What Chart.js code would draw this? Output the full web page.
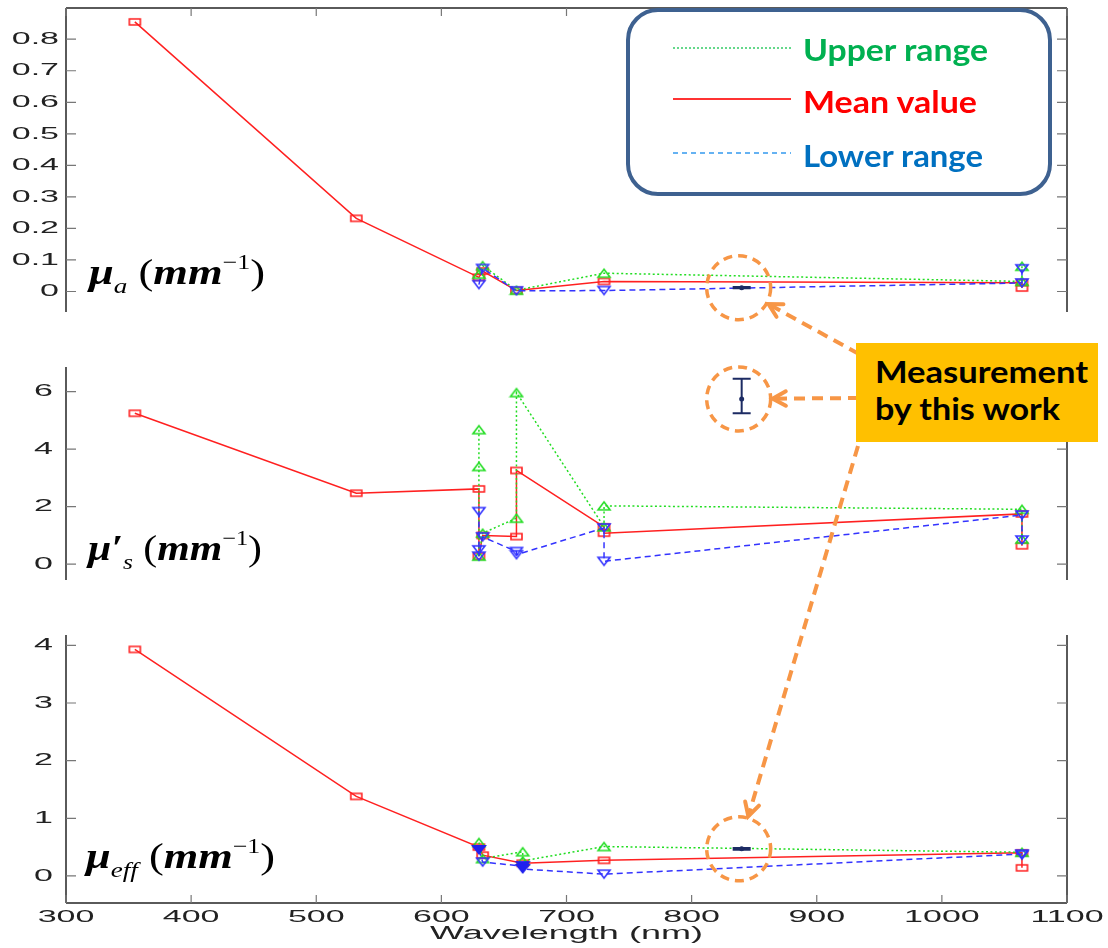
<!DOCTYPE html>
<html>
<head>
<meta charset="utf-8">
<script src="https://cdn.jsdelivr.net/npm/chart.js@4.4.1/dist/chart.umd.min.js"></script>
<style>
  body { margin: 0; background: #fff; }
  #wrap { position: relative; width: 1108px; height: 948px; overflow: hidden; }
  #wrap canvas { position: absolute; left: 0; }
  .txt { position: absolute; white-space: nowrap; transform-origin: 0 0; }
  .leg { font-family: Lato, "Open Sans", sans-serif; font-weight: bold; font-size: 31px; line-height: 31px; }
  .call { font-family: Lato, "Open Sans", sans-serif; font-weight: bold; font-size: 30px; line-height: 30px; color: #000; }
  .plab { font-family: "Liberation Serif", "DejaVu Serif", serif; font-size: 36px; line-height: 36px; font-weight: bold; font-style: italic; color: #000; }
  .plab .s { font-size: 22px; font-weight: normal; position: relative; top: 9px; }
  .plab .p { font-size: 21px; font-weight: normal; font-style: normal; position: relative; top: -15px; }
  .plab .r { font-weight: normal; font-style: normal; }
  #callout { position: absolute; left: 856px; top: 343px; width: 242px; height: 99px; background: #FFC000; }
</style>
</head>
<body>
<div id="wrap">
  <canvas id="cA" width="1108" height="320" style="top:0"></canvas>
  <canvas id="cS" width="1108" height="260" style="top:340px"></canvas>
  <canvas id="cE" width="1108" height="338" style="top:610px"></canvas>
  <canvas id="over" width="1108" height="948" style="top:0"></canvas>

  <div class="txt leg" data-w="185" style="left:803px;top:34px;color:#00B050">Upper range</div>
  <div class="txt leg" data-w="174" style="left:803px;top:86px;color:#FF0000">Mean value</div>
  <div class="txt leg" data-w="180" style="left:803px;top:140px;color:#0070C0">Lower range</div>

  <div id="callout"></div>
  <div class="txt call" data-w="213" style="left:875px;top:356px">Measurement</div>
  <div class="txt call" data-w="185" style="left:875px;top:393px">by this work</div>

  <div class="txt plab" data-w="176" style="left:89px;top:254px">μ<span class="s">a</span> <span class="r">(</span>mm<span class="p">−1</span><span class="r">)</span></div>
  <div class="txt plab" data-w="174" style="left:88px;top:530px">μ′<span class="s">s</span> <span class="r">(</span>mm<span class="p">−1</span><span class="r">)</span></div>
  <div class="txt plab" data-w="189" style="left:86px;top:838px">μ<span class="s">eff</span> <span class="r">(</span>mm<span class="p">−1</span><span class="r">)</span></div>
</div>
<script>
// axis ticks
const wlTicks = [300, 400, 500, 600, 700, 800, 900, 1000, 1100];
const muaTicks = [0, 0.1, 0.2, 0.3, 0.4, 0.5, 0.6, 0.7, 0.8];
const musTicks = [0, 2, 4, 6];
const effTicks = [0, 1, 2, 3, 4];

// absorption coefficient mu_a (mm^-1)
const muaMeanWl = [355, 532, 630, 633, 660, 730, 1064, 1064];
const muaMean   = [0.855, 0.232, 0.045, 0.065, 0.003, 0.032, 0.028, 0.011];
const muaUpWl   = [630, 633, 660, 730, 1064, 1064];
const muaUp     = [0.055, 0.082, 0.004, 0.058, 0.032, 0.080];
const muaLowWl  = [630, 633, 660, 730, 1064, 1064];
const muaLow    = [0.022, 0.073, 0.002, 0.003, 0.027, 0.072];

// reduced scattering mu_s' (mm^-1)
const musMeanWl = [355, 532, 630, 630, 633, 660, 660, 730, 730, 1064, 1064];
const musMean   = [5.25, 2.47, 2.62, 0.28, 1.00, 0.96, 3.26, 1.30, 1.08, 1.75, 0.64];
const musUpWl   = [630, 630, 630, 633, 660, 660, 730, 730, 1064, 1064];
const musUp     = [4.68, 3.40, 0.28, 1.08, 1.60, 5.97, 1.30, 2.03, 1.91, 0.87];
const musLowWl  = [630, 630, 630, 633, 660, 660, 730, 730, 1064, 1064];
const musLow    = [1.83, 0.50, 0.28, 0.95, 0.44, 0.33, 1.26, 0.10, 1.71, 0.84];

// effective attenuation mu_eff (mm^-1)
const effMeanWl = [355, 532, 630, 633, 665, 730, 1064, 1064];
const effMean   = [3.93, 1.38, 0.50, 0.36, 0.22, 0.27, 0.40, 0.14];
const effUpWl   = [630, 633, 665, 665, 730, 1064];
const effUp     = [0.58, 0.30, 0.42, 0.26, 0.51, 0.41];
const effLowWl  = [630, 633, 665, 665, 730, 1064, 1064];
const effLow    = [0.45, 0.24, 0.17, 0.12, 0.03, 0.38, 0.36];

// this work: [value, low, high] at 840 nm
const measWl = 840;
const measMuA = [0.012, 0.010, 0.014];
const measMuS = [5.75, 5.25, 6.45];
const measMuEff = [0.47, 0.455, 0.485];

Chart.defaults.font.family = '"Liberation Sans", Arial, sans-serif';

function marker(w, h, color, shape, fill) {
    const c = document.createElement('canvas');
    c.width = w + 4; c.height = h + 4;
    const g = c.getContext('2d');
    g.strokeStyle = color; g.fillStyle = color; g.lineWidth = 1.6;
    g.beginPath();
    if (shape === 'sq') g.rect(2, 2, w, h);
    else if (shape === 'up') { g.moveTo(2, h + 2); g.lineTo(w / 2 + 2, 2); g.lineTo(w + 2, h + 2); g.closePath(); }
    else { g.moveTo(2, 2); g.lineTo(w / 2 + 2, h + 2); g.lineTo(w + 2, 2); g.closePath(); }
    if (fill) g.fill(); else g.stroke();
    return c;
}
const sqMark = marker(11, 6, '#ff2020', 'sq');
const upMark = marker(12, 8, '#22dd22', 'up');
const downMark = marker(12, 8, '#3333ff', 'down');
const downFill = marker(16, 10, '#2020ee', 'down', true);

// MATLAB-like wide axis text
const stretchText = {
    id: 'stretchText',
    beforeInit(chart) {
        const ctx = chart.ctx, orig = ctx.fillText.bind(ctx);
        ctx.fillText = function (t, x, y) {
            ctx.save(); ctx.translate(x, y); ctx.scale(2.0, 1); orig(t, 0, 0); ctx.restore();
        };
    }
};

// axes box with inward ticks
const frame = {
    id: 'frame',
    afterDatasetsDraw(chart, args, o) {
        const {ctx, chartArea: a, scales: {x, y}} = chart;
        const ln = (x1, y1, x2, y2) => { ctx.moveTo(x1, y1); ctx.lineTo(x2, y2); };
        ctx.save();
        ctx.strokeStyle = '#5a5a5a'; ctx.lineWidth = 2;
        ctx.beginPath();
        ln(a.left, a.top, a.left, a.bottom);
        ln(a.right, a.top, a.right, a.bottom);
        if (o.top) ln(a.left, a.top, a.right, a.top);
        if (o.bottom) ln(a.left, a.bottom, a.right, a.bottom);
        ctx.stroke();
        ctx.lineWidth = 1.2; ctx.strokeStyle = '#777';
        ctx.beginPath();
        y.ticks.forEach(t => {
            const py = y.getPixelForValue(t.value);
            ln(a.left, py, a.left + 10, py);
            ln(a.right, py, a.right - 10, py);
        });
        x.ticks.forEach(t => {
            const px = x.getPixelForValue(t.value);
            if (o.top) ln(px, a.top, px, a.top + 8);
            if (o.bottom) ln(px, a.bottom, px, a.bottom - 8);
        });
        ctx.stroke();
        ctx.restore();
    }
};

// error bar of the measurement by this work
const measBar = {
    id: 'measBar',
    afterDatasetsDraw(chart, args, o) {
        const {ctx, scales: {x, y}} = chart;
        const px = x.getPixelForValue(o.wl);
        const yc = y.getPixelForValue(o.v[0]), yl = y.getPixelForValue(o.v[1]), yh = y.getPixelForValue(o.v[2]);
        ctx.save();
        ctx.strokeStyle = '#1c2b63'; ctx.fillStyle = '#1c2b63'; ctx.lineWidth = 2;
        ctx.beginPath();
        ctx.moveTo(px, yl); ctx.lineTo(px, yh);
        ctx.moveTo(px - 9, yl); ctx.lineTo(px + 9, yl);
        ctx.moveTo(px - 9, yh); ctx.lineTo(px + 9, yh);
        ctx.stroke();
        ctx.beginPath(); ctx.arc(px, yc, 2.5, 0, Math.PI * 2); ctx.fill();
        ctx.restore();
    }
};

function pts(wl, v) { return wl.map((w, i) => ({x: w, y: v[i]})); }

function series(data, color, dash, style) {
    return {
        data: data, showLine: true, borderColor: color, borderWidth: 1.5, borderDash: dash,
        pointStyle: style, pointRadius: 5, backgroundColor: color
    };
}

function panel(id, p) {
    return new Chart(document.getElementById(id), {
        type: 'scatter',
        data: {
            datasets: [
                series(pts(p.lowWl, p.low), '#3333ff', [6, 4], p.lowStyle || downMark),
                series(pts(p.upWl, p.up), '#22dd22', [2, 2.5], upMark),
                series(pts(p.meanWl, p.mean), '#ff2020', [], sqMark)
            ]
        },
        options: {
            responsive: false,
            animation: false,
            events: [],
            layout: { padding: { top: p.padTop, bottom: p.padBottom, left: 0, right: 41 }, autoPadding: false },
            plugins: {
                legend: { display: false },
                tooltip: { enabled: false },
                frame: { top: p.top, bottom: p.bottom },
                measBar: { wl: measWl, v: p.meas }
            },
            scales: {
                x: {
                    type: 'linear', min: 300, max: 1100,
                    display: p.bottom,
                    afterBuildTicks: s => { s.ticks = wlTicks.map(v => ({value: v})); },
                    afterFit: s => { s.height = p.bottom ? 45 : 0; s.paddingLeft = 0; s.paddingRight = 0; },
                    grid: { display: false, drawTicks: false },
                    border: { display: false },
                    ticks: { color: '#222', font: { size: 17 }, padding: 4, maxRotation: 0, autoSkip: false, callback: v => String(v) },
                    title: { display: true, text: 'Wavelength (nm)', color: '#222', font: { size: 18 }, padding: { top: 0, bottom: 3 } }
                },
                y: {
                    min: p.min, max: p.max,
                    afterBuildTicks: s => { s.ticks = p.ticks.map(v => ({value: v})); },
                    afterFit: s => { s.width = 66; s.paddingTop = 0; s.paddingBottom = 0; },
                    grid: { display: false, drawTicks: false },
                    border: { display: false },
                    ticks: { color: '#222', font: { size: 17 }, padding: p.labelPad }
                }
            }
        },
        plugins: [stretchText, frame, measBar]
    });
}

const chartA = panel('cA', {
    meanWl: muaMeanWl, mean: muaMean, upWl: muaUpWl, up: muaUp, lowWl: muaLowWl, low: muaLow,
    ticks: muaTicks, min: -0.065, max: 0.899, padTop: 8, padBottom: 8, labelPad: 7,
    top: true, bottom: false, meas: measMuA
});
const chartS = panel('cS', {
    meanWl: musMeanWl, mean: musMean, upWl: musUpWl, up: musUp, lowWl: musLowWl, low: musLow,
    ticks: musTicks, min: -0.55, max: 6.86, padTop: 27, padBottom: 20, labelPad: 13,
    top: false, bottom: false, meas: measMuS
});
const filledIdx = [0, 2, 3];
const chartE = panel('cE', {
    meanWl: effMeanWl, mean: effMean, upWl: effUpWl, up: effUp, lowWl: effLowWl, low: effLow,
    lowStyle: c => filledIdx.includes(c.dataIndex) ? downFill : downMark,
    ticks: effTicks, min: -0.47, max: 4.18, padTop: 25, padBottom: 0, labelPad: 13,
    top: false, bottom: true, meas: measMuEff
});

function dashLine(g, x1, y1, x2, y2, color, dash, w) {
    g.save(); g.strokeStyle = color; g.setLineDash(dash); g.lineWidth = w;
    g.beginPath(); g.moveTo(x1, y1); g.lineTo(x2, y2); g.stroke(); g.restore();
}

function drawOverlay() {
    const g = document.getElementById('over').getContext('2d');
    const orange = '#F79646';

    // legend box
    g.save();
    g.fillStyle = '#fff'; g.strokeStyle = '#3e6190'; g.lineWidth = 4;
    g.beginPath(); g.roundRect(628, 10, 422, 184, 30); g.fill(); g.stroke();
    g.restore();
    dashLine(g, 673, 48, 791, 48, '#33cc66', [2, 2], 1.5);
    dashLine(g, 673, 99, 791, 99, '#ff3333', [], 2);
    dashLine(g, 673, 153, 791, 153, '#3399ee', [5, 4], 1.5);

    // circles round the measurements and arrows from the callout
    const marks = [[chartA, 0, measMuA, 859, 354], [chartS, 340, measMuS, 859, 398], [chartE, 610, measMuEff, 858, 446]];
    marks.forEach(([ch, top, v, fx, fy]) => {
        const cx = ch.scales.x.getPixelForValue(measWl) - 3;
        const cy = top + ch.scales.y.getPixelForValue(v[0]);
        const r = 32;
        g.save();
        g.strokeStyle = orange; g.lineWidth = 3.5; g.setLineDash([9, 6]);
        g.beginPath(); g.arc(cx, cy, r, 0, Math.PI * 2); g.stroke();
        g.restore();
        const dx = fx - cx, dy = fy - cy, d = Math.hypot(dx, dy);
        const tx = cx + dx / d * (r + 2), ty = cy + dy / d * (r + 2);
        dashLine(g, fx, fy, tx, ty, orange, [11, 7], 4);
        const ang = Math.atan2(dy, dx);
        g.save();
        g.strokeStyle = orange; g.lineWidth = 4; g.lineCap = 'round';
        g.beginPath();
        g.moveTo(tx + 15 * Math.cos(ang + 0.5), ty + 15 * Math.sin(ang + 0.5));
        g.lineTo(tx, ty);
        g.lineTo(tx + 15 * Math.cos(ang - 0.5), ty + 15 * Math.sin(ang - 0.5));
        g.stroke();
        g.restore();
    });
}
drawOverlay();

// fit HTML text to the widths in the picture
document.querySelectorAll('[data-w]').forEach(el => {
    const w = el.getBoundingClientRect().width;
    el.style.transform = 'scaleX(' + (+el.dataset.w / w) + ')';
});
</script>
</body>
</html>
